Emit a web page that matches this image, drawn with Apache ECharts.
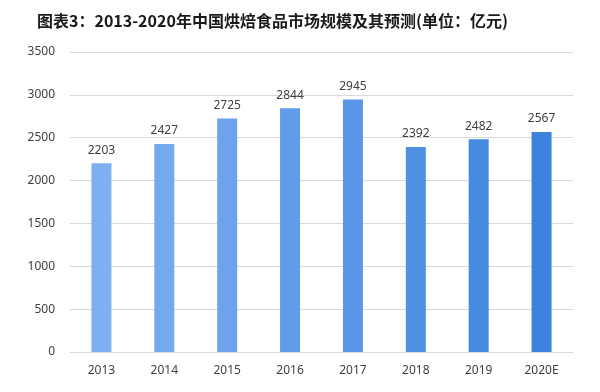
<!DOCTYPE html>
<html><head><meta charset="utf-8">
<script src="https://cdn.jsdelivr.net/npm/echarts@6/dist/echarts.min.js"></script>
<style>html,body{margin:0;padding:0;background:#fff}#c{width:600px;height:392px}</style>
</head><body><div id="c"></div>
<script>
var categories = ['2013','2014','2015','2016','2017','2018','2019','2020E'];
var values = [2203, 2427, 2725, 2844, 2945, 2392, 2482, 2567];
var barColors = ['#7eaff0','#75a9ee','#6ca3ec','#619be9','#5a96e7','#4f8fe4','#4689e1','#3d83de'];
var yTicks = [0,500,1000,1500,2000,2500,3000,3500];
var titleText = '图表3：2013-2020年中国烘焙食品市场规模及其预测(单位：亿元)';

var chart = echarts.init(document.getElementById('c'));
chart.setOption({
  animation: false,
  backgroundColor: '#fff',
  title: {
    text: titleText, left: 32, top: 8,
    textStyle: {fontFamily: 'Noto Sans CJK SC', fontWeight: 'bold', fontSize: 16, color: '#1a1a1a'}
  },
  grid: {left: 70, right: 27, top: 52, bottom: 40},
  xAxis: {
    type: 'category', data: categories,
    axisLine: {lineStyle: {color: '#d9d9d9'}},
    axisTick: {show: false},
    axisLabel: {color: '#404040', fontSize: 12, margin: 13, fontFamily: 'Noto Sans'}
  },
  yAxis: {
    type: 'value', min: yTicks[0], max: yTicks[yTicks.length-1], interval: 500,
    axisLine: {show: false}, axisTick: {show: false},
    axisLabel: {color: '#404040', fontSize: 12, margin: 15, fontFamily: 'Noto Sans',
      formatter: function(v){ return String(v); }},
    splitLine: {lineStyle: {color: '#d9d9d9'}}
  },
  series: [{
    type: 'bar', barWidth: 20,
    data: values.map(function(v, i){ return {value: v, itemStyle: {color: barColors[i]}}; }),
    label: {show: true, position: 'top', distance: 7, color: '#404040', fontSize: 12, fontFamily: 'Noto Sans'}
  }]
});
</script></body></html>
